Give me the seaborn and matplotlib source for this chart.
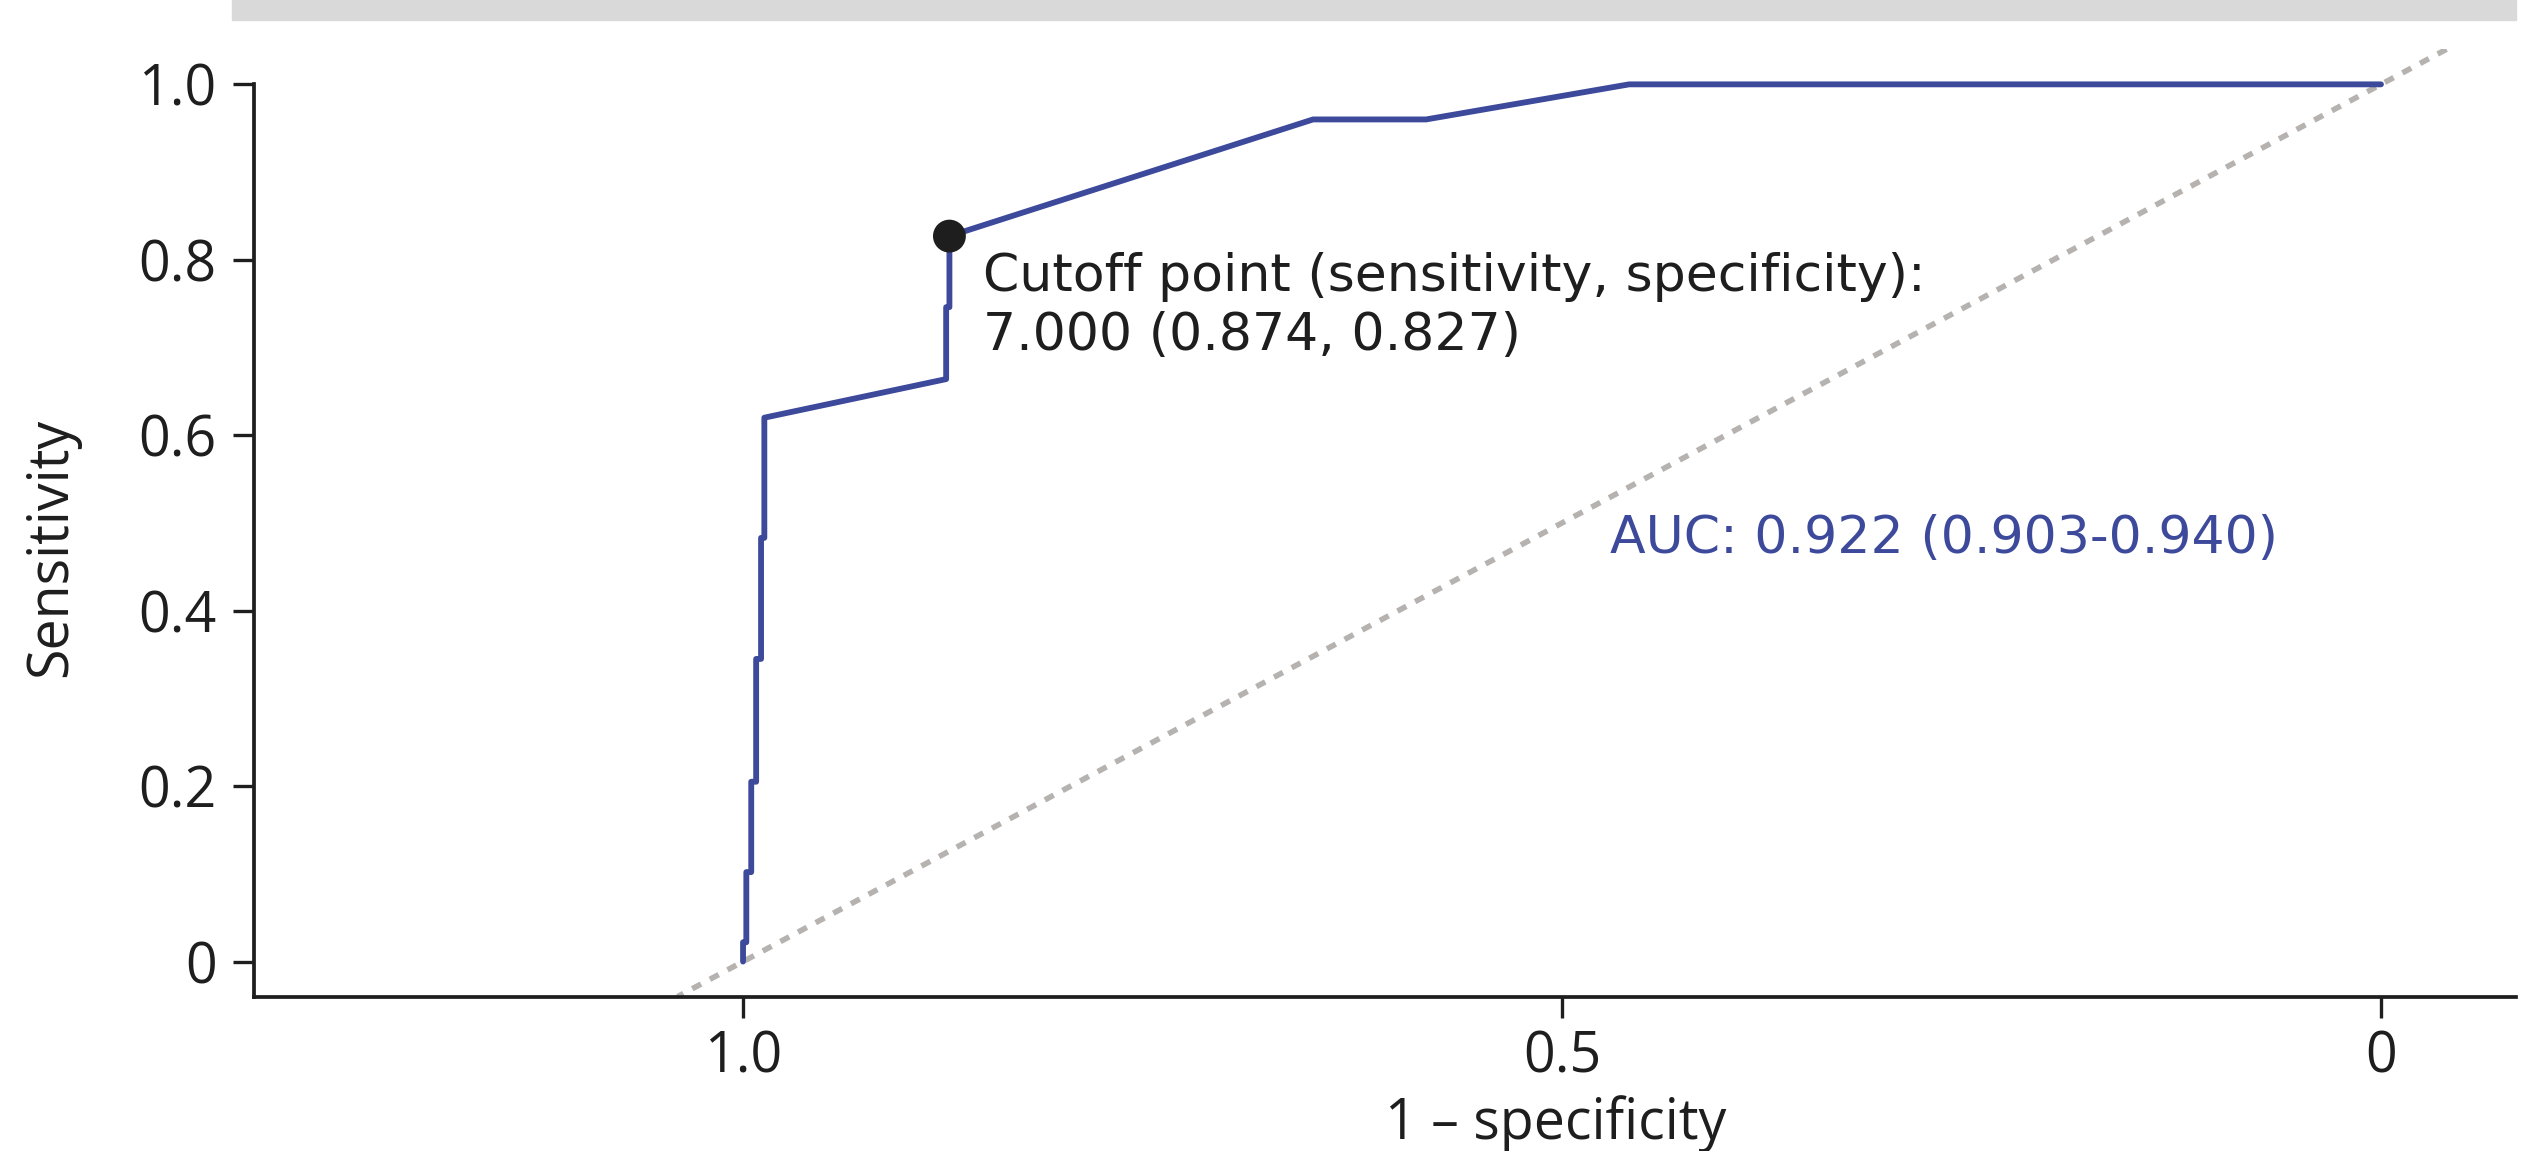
import matplotlib
matplotlib.use("Agg")
import matplotlib.pyplot as plt
import seaborn as sns
import pandas as pd
from matplotlib.patches import Rectangle

# ROC curve (x axis runs 1.0 -> 0)
spec_x = [1.000, 1.000, 0.998, 0.998, 0.995, 0.995, 0.992, 0.992, 0.989, 0.989,
          0.987, 0.987, 0.876, 0.876, 0.874, 0.874, 0.652, 0.583, 0.459, 0.000]
sens_y = [0.000, 0.022, 0.022, 0.102, 0.102, 0.205, 0.205, 0.345, 0.345, 0.483,
          0.483, 0.620, 0.664, 0.746, 0.746, 0.827, 0.960, 0.960, 1.000, 1.000]

cutoff_x = [0.874]
cutoff_y = [0.827]

x_ticks = [1.0, 0.5, 0.0]
x_tick_labels = ["1.0", "0.5", "0"]
y_ticks = [0.0, 0.2, 0.4, 0.6, 0.8, 1.0]
y_tick_labels = ["0", "0.2", "0.4", "0.6", "0.8", "1.0"]

cutoff_text = "Cutoff point (sensitivity, specificity):\n7.000 (0.874, 0.827)"
auc_text = "AUC: 0.922 (0.903-0.940)"

blue = "#3d4a9b"
dark = "#1e1e1e"
grey = "#b5b2b0"

sns.set_style("ticks")
plt.rcParams['font.family'] = ['Open Sans', 'DejaVu Sans']

roc = pd.DataFrame({"spec": spec_x, "sens": sens_y})

fig = plt.figure(figsize=(25.21, 11.51), dpi=100)
ax = fig.add_axes([0.1008, 0.1341, 0.8972, 0.8231])

# chance line
ax.axline((1.0, 0.0), (0.0, 1.0), color=grey, lw=4.0, ls=(0, (1.8, 1.8)), zorder=1)

sns.lineplot(data=roc, x="spec", y="sens", sort=False, estimator=None,
             color=blue, lw=4.2, ax=ax, zorder=2)
sns.scatterplot(x=cutoff_x, y=cutoff_y, s=560, color=dark, edgecolor="none",
                ax=ax, zorder=3)

# annotations (wider face, closer to the original's geometric font)
ax.text(0.8535, 0.8084, cutoff_text, fontsize=37.5, color=dark, va="top",
        ha="left", linespacing=1.21, family="DejaVu Sans")
ax.text(0.4708, 0.4658, auc_text, fontsize=37.5, color=blue, va="baseline",
        ha="left", family="DejaVu Sans")

ax.set_xlim(1.2985, -0.0824)
ax.set_ylim(-0.04, 1.04)
ax.set_xticks(x_ticks)
ax.set_xticklabels(x_tick_labels)
ax.set_yticks(y_ticks)
ax.set_yticklabels(y_tick_labels)

ax.tick_params(axis="both", labelsize=40, colors=dark, length=15, width=2.4)
ax.tick_params(axis="y", pad=12)
ax.tick_params(axis="x", pad=8.3)

sns.despine(ax=ax)
ax.spines["left"].set_bounds(-0.04, 1.0)
for side in ["left", "bottom"]:
    ax.spines[side].set_linewidth(2.7)
    ax.spines[side].set_color(dark)

ax.set_xlabel("1 – specificity", fontsize=40, color=dark)
ax.set_ylabel("Sensitivity", fontsize=40, color=dark)
ax.xaxis.set_label_coords(0.5756, -0.1035)
ax.yaxis.set_label_coords(-0.077, 0.474)

# grey header band across the top of the figure
fig.patches.append(Rectangle((232 / 2521, 1 - 20 / 1151), (2516 - 232) / 2521,
                             20 / 1151, transform=fig.transFigure,
                             color="#d9d9d9", zorder=0))

fig.savefig("out.png", dpi=100)
